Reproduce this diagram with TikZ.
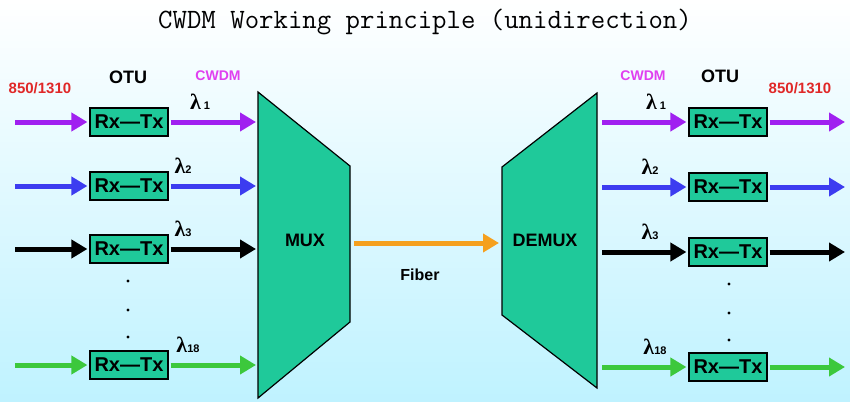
\documentclass[tikz,border=0pt]{standalone}
\usepackage{fontspec}
\setmainfont{Liberation Sans}
\newfontfamily\serf{Liberation Serif}
\usetikzlibrary{arrows.meta}
\definecolor{boxg}{HTML}{1FC99A}
\definecolor{vio}{HTML}{A020F0}
\definecolor{blu}{HTML}{3C3CF0}
\definecolor{grn}{HTML}{3CC83C}
\definecolor{org}{HTML}{F5A01E}
\definecolor{mag}{HTML}{E040F0}
\definecolor{rd}{HTML}{E02828}
\newcommand\mylam[1]{{\serf\bfseries\fontsize{22}{22}\selectfont λ}{\fontsize{11}{11}\selectfont\bfseries #1}}
\begin{document}
\begin{tikzpicture}[x=1pt,y=-1pt,
 box/.style={draw=black,line width=1.2pt,fill=boxg,minimum width=78pt,minimum height=28pt,inner sep=0pt,font=\fontsize{20}{20}\selectfont\bfseries},
 arr/.style={line width=5pt,-{Triangle[length=16pt,width=18pt]},shorten >=2pt,shorten <=2pt},
 lab/.style={font=\fontsize{15}{15}\selectfont\bfseries},
 lam/.style={inner sep=0pt}]
\shade[left color=white,right color=blue!20!cyan!25,shading angle=0] (0,0) rectangle (850,401);
\useasboundingbox (0,0) rectangle (850,401);
\node[font=\fontsize{28}{28}\selectfont\ttfamily] (title) at (425,22) {CWDM Working principle (unidirection)};
% MUX / DEMUX
\draw[line width=1.2pt,fill=boxg] (258,92) -- (350,166) -- (350,322) -- (258,398) -- cycle;
\draw[line width=1.2pt,fill=boxg] (502,167) -- (597,93) -- (597,388) -- (502,315) -- cycle;
\node[font=\fontsize{18}{18}\selectfont\bfseries] (mux) at (305,240) {MUX};
\node[font=\fontsize{18}{18}\selectfont\bfseries] (demux) at (545,240) {DEMUX};
\coordinate (fa) at (352,243); \coordinate (fb) at (499,243);
\draw[arr,org,shorten >=0pt] (fa) -- (fb);
\node[font=\fontsize{16}{16}\selectfont\bfseries] (fiber) at (420,275) {Fiber};
% headers
\node[lab,rd] (h1) at (40,88) {850/1310};
\node[font=\fontsize{18}{18}\selectfont\bfseries] (h2) at (128,77) {OTU};
\node[mag,font=\fontsize{14}{14}\selectfont\bfseries] (h3) at (218,76) {CWDM};
\node[mag,font=\fontsize{14}{14}\selectfont\bfseries] (h4) at (643,76) {CWDM};
\node[font=\fontsize{18}{18}\selectfont\bfseries] (h5) at (720,76) {OTU};
\node[lab,rd] (h6) at (800,88) {850/1310};
% rows
\foreach \n/\yl/\yr/\c/\l/\lx/\lrx in {1/122/122/vio/{\ 1}/200/656,2/186/187/blu/2/183/650,3/249/252/black/3/183/650,4/365/367/grn/{18}/188/655}{
 \node[box] (L\n) at (129,\yl) {Rx---Tx};
 \coordinate (la\n) at (13,\yl);
 \coordinate (lb\n) at (258,\yl);
 \draw[arr,\c] (la\n) -- (L\n);
 \draw[arr,\c] (L\n) -- (lb\n);
 \node[box] (R\n) at (728,\yr) {Rx---Tx};
 \coordinate (ra\n) at (600,\yr);
 \coordinate (rb\n) at (847,\yr);
 \draw[arr,\c] (ra\n) -- (R\n);
 \draw[arr,\c] (R\n) -- (rb\n);
 \node[lam] (ll\n) at (\lx,\yl-20) {\mylam{\l}};
 \node[lam] (lr\n) at (\lrx,\yr-20) {\mylam{\l}};
}
\foreach \i/\y in {1/281,2/310,3/337}{
 \fill (128,\y) circle (1.6pt);
 \fill (729,\y+3) circle (1.6pt);
}
\end{tikzpicture}
\end{document}
